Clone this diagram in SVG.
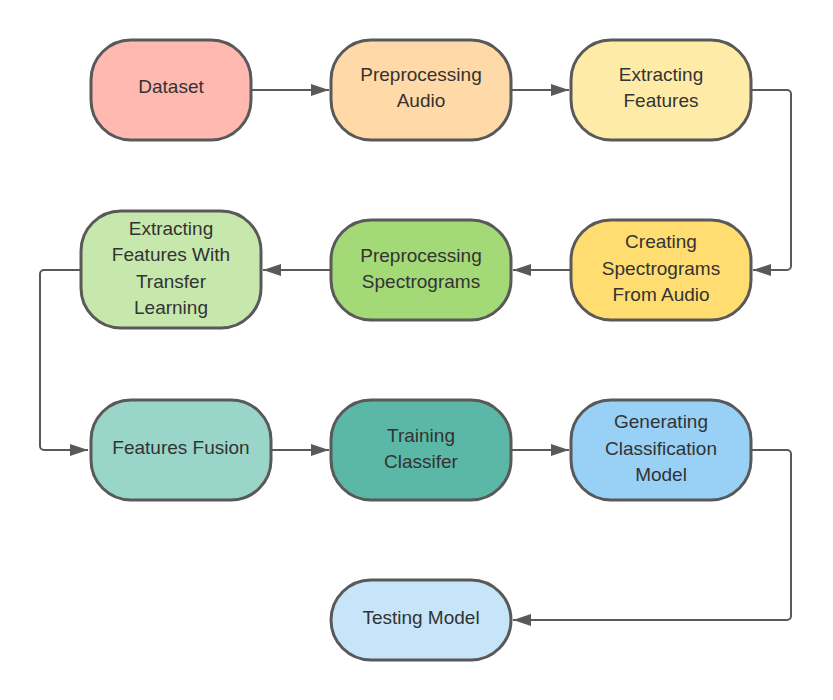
<svg xmlns="http://www.w3.org/2000/svg" width="833" height="700" viewBox="0 0 833 700">
<style>
.n{stroke:#595959;stroke-width:3}
.t{font-family:"Liberation Sans",Arial,sans-serif;font-size:19px;fill:#333;text-anchor:middle}
.c{fill:none;stroke:#595959;stroke-width:2;stroke-linejoin:round}
</style>
<defs><marker id="a" viewBox="0 0 10 10" refX="10" refY="5" markerWidth="10" markerHeight="10" markerUnits="userSpaceOnUse" orient="auto"><path d="M0,0L10,5L0,10z" fill="#595959"/></marker>
<marker id="b" viewBox="0 0 10 10" refX="10" refY="5" markerWidth="18" markerHeight="12" markerUnits="userSpaceOnUse" orient="auto" preserveAspectRatio="none"><path d="M0,0L10,5L0,10z" fill="#595959"/></marker></defs>
<rect width="833" height="700" fill="#fff"/>
<g id="connectors">
<path class="c" d="M252,90H329" marker-end="url(#b)"/>
<path class="c" d="M512,90H569" marker-end="url(#b)"/>
<path class="c" d="M752,90H787a4,4 0 0 1 4,4V266a4,4 0 0 1-4,4H753" marker-end="url(#b)"/>
<path class="c" d="M571,270H513" marker-end="url(#b)"/>
<path class="c" d="M331,270H263" marker-end="url(#b)"/>
<path class="c" d="M81,270H44a4,4 0 0 0-4,4V446a4,4 0 0 0 4,4H88" marker-end="url(#b)"/>
<path class="c" d="M271,450H329" marker-end="url(#b)"/>
<path class="c" d="M512,450H569" marker-end="url(#b)"/>
<path class="c" d="M752,450H787a4,4 0 0 1 4,4V616a4,4 0 0 1-4,4H513" marker-end="url(#b)"/>
</g>
<g id="dataset"><rect class="n" x="91" y="40" width="160" height="100" rx="40" fill="#ffb9b0"/><text class="t" x="171" y="93">Dataset</text></g>
<g id="preaudio"><rect class="n" x="331" y="40" width="180" height="100" rx="40" fill="#ffd9a8"/><text class="t" x="421" y="81">Preprocessing</text><text class="t" x="421" y="107">Audio</text></g>
<g id="extract"><rect class="n" x="571" y="40" width="180" height="100" rx="40" fill="#ffeba8"/><text class="t" x="661" y="81">Extracting</text><text class="t" x="661" y="107">Features</text></g>
<g id="creating"><rect class="n" x="571" y="220" width="180" height="100" rx="40" fill="#ffdd71"/><text class="t" x="661" y="248">Creating</text><text class="t" x="661" y="275">Spectrograms</text><text class="t" x="661" y="301">From Audio</text></g>
<g id="prespec"><rect class="n" x="331" y="220" width="180" height="100" rx="40" fill="#a3d977"/><text class="t" x="421" y="262">Preprocessing</text><text class="t" x="421" y="288">Spectrograms</text></g>
<g id="transfer"><rect class="n" x="81" y="211" width="180" height="117" rx="40" fill="#c7e8ac"/><text class="t" x="171" y="235">Extracting</text><text class="t" x="171" y="261">Features With</text><text class="t" x="171" y="288">Transfer</text><text class="t" x="171" y="314">Learning</text></g>
<g id="fusion"><rect class="n" x="91" y="400" width="180" height="100" rx="40" fill="#9ad5ca"/><text class="t" x="181" y="454">Features Fusion</text></g>
<g id="training"><rect class="n" x="331" y="400" width="180" height="100" rx="40" fill="#5bb8a6"/><text class="t" x="421" y="442">Training</text><text class="t" x="421" y="468">Classifer</text></g>
<g id="generating"><rect class="n" x="571" y="400" width="180" height="100" rx="40" fill="#99d0f5"/><text class="t" x="661" y="428">Generating</text><text class="t" x="661" y="455">Classification</text><text class="t" x="661" y="481">Model</text></g>
<g id="testing"><rect class="n" x="331" y="580" width="180" height="80" rx="40" fill="#c6e5f8"/><text class="t" x="421" y="624">Testing Model</text></g>
</svg>
